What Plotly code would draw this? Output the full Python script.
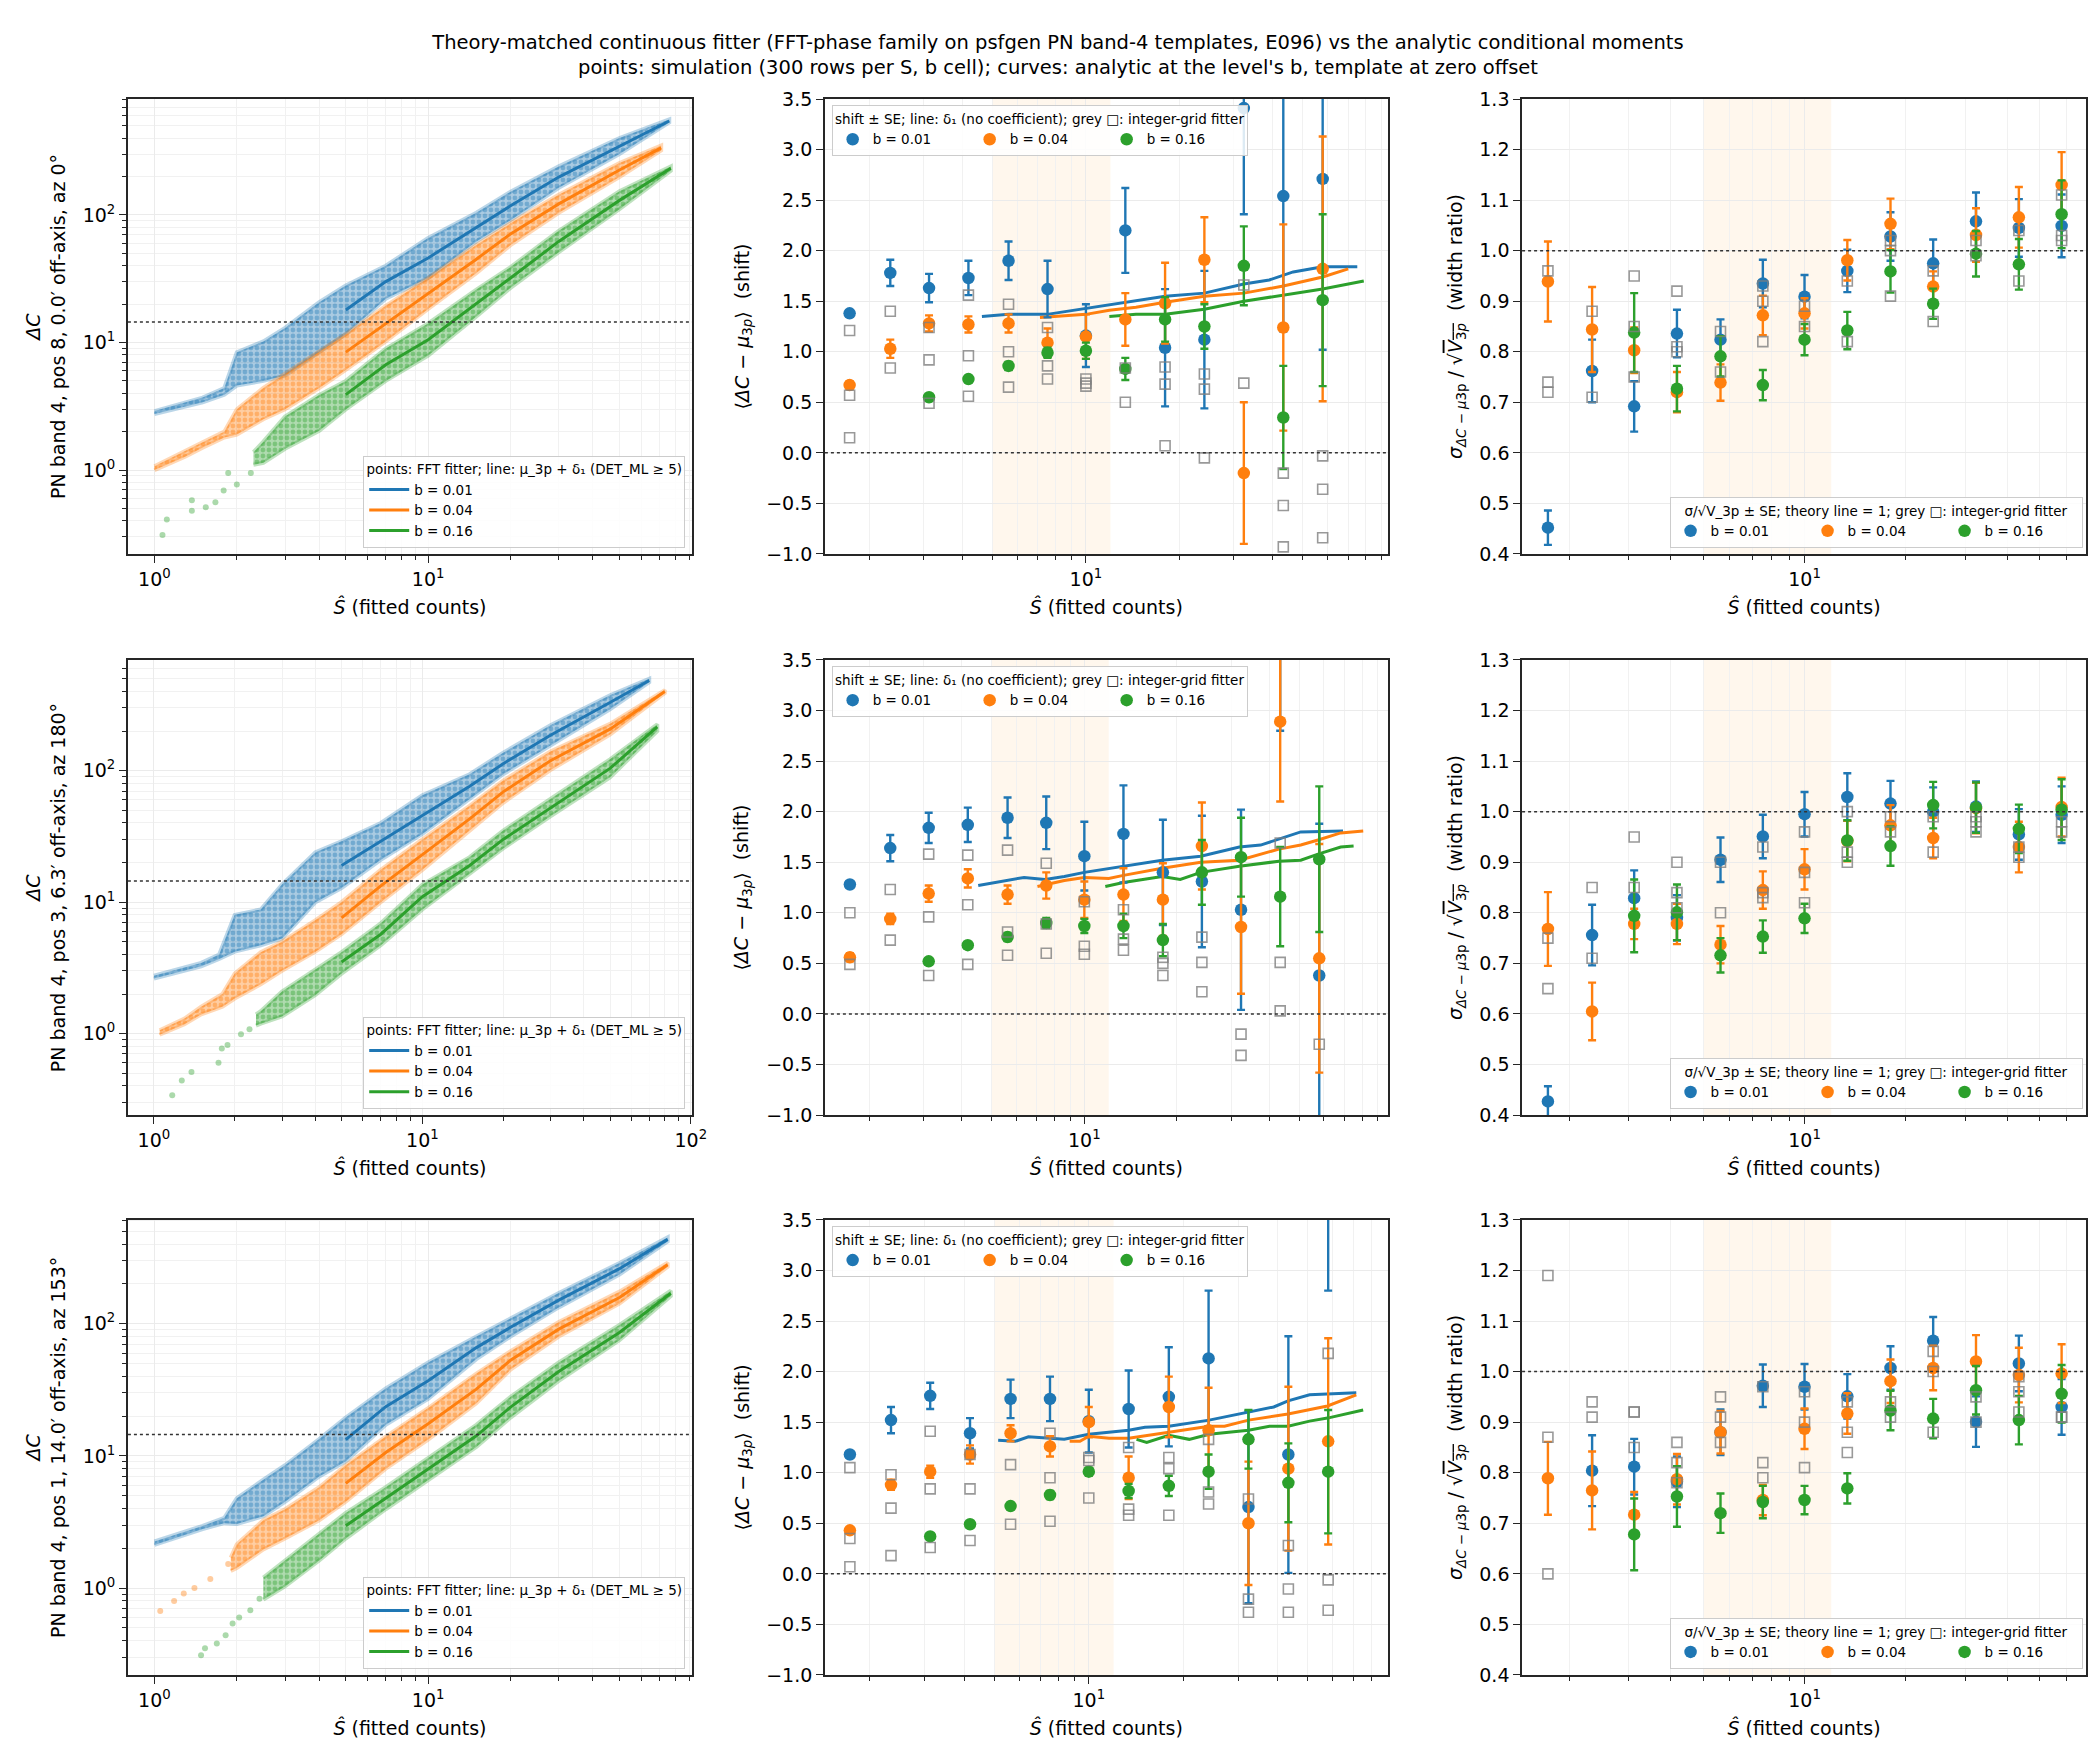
import math
import plotly.graph_objects as go

# colours (matplotlib tab10) and labels
COLORS = ["#1f77b4", "#ff7f0e", "#2ca02c"]
RGB = [(31, 119, 180), (255, 127, 14), (44, 160, 44)]
B_NAMES = ["b = 0.01", "b = 0.04", "b = 0.16"]

row_labels = [
    "PN band 4, pos 8, 0.0′ off-axis, az 0°",
    "PN band 4, pos 3, 6.3′ off-axis, az 180°",
    "PN band 4, pos 1, 14.0′ off-axis, az 153°",
]

# binned S-hat centres (middle and right columns)
s_bins = [1.73, 2.34, 3.12, 4.18, 5.63, 7.52, 10.0, 13.4, 18.0, 24.1, 32.3, 43.3, 58.0]

# ---------------- row 1 : pos 8 ----------------
r1_cloud_b01_s = [1.0, 1.5, 1.8, 2.0, 2.5, 3.0, 4.0, 5.0, 7.0, 10, 15, 20, 30, 50, 76]
r1_cloud_b01_lo = [2.75, 3.4, 3.9, 4.6, 5.0, 5.5, 8.4, 11.6, 22, 32, 62, 91, 163, 300, 530]
r1_cloud_b01_hi = [2.9, 3.7, 4.4, 8.4, 10.2, 13.0, 20.7, 28, 40, 66, 104, 152, 240, 400, 560]
r1_cloud_b04_s = [1.0, 1.3, 1.5, 1.8, 2.0, 2.5, 3.0, 4.0, 5.0, 7.0, 10, 15, 20, 30, 50, 71]
r1_cloud_b04_lo = [1.0, 1.28, 1.5, 1.8, 1.9, 2.5, 3.0, 4.4, 6.1, 10.2, 18.3, 35, 58, 104, 198, 320]
r1_cloud_b04_hi = [1.07, 1.4, 1.65, 2.0, 3.0, 4.4, 5.7, 8.4, 11.6, 19.4, 32, 58, 86, 144, 255, 350]
r1_cloud_b16_s = [2.3, 2.5, 3.0, 4.0, 5.0, 7.0, 10, 15, 20, 30, 50, 77]
r1_cloud_b16_lo = [1.10, 1.14, 1.47, 2.03, 2.99, 5.0, 7.9, 16, 26.8, 51, 111, 222]
r1_cloud_b16_hi = [1.38, 1.67, 2.63, 3.87, 5.0, 8.96, 14.1, 26, 39, 75, 153, 240]
r1_tail_b16_s = [1.07, 1.11, 1.37, 1.37, 1.54, 1.67, 1.79, 1.86, 2.0, 2.25]
r1_tail_b16_dc = [0.31, 0.41, 0.58, 0.48, 0.51, 0.56, 0.69, 0.95, 0.77, 0.95]
r1_line_b01_s = [5, 7, 10, 15, 20, 30, 50, 76]
r1_line_b01 = [18, 30, 46, 80, 118, 198, 345, 545]
r1_line_b04_s = [5, 7, 10, 15, 20, 30, 50, 71]
r1_line_b04 = [8.4, 14, 24, 45, 71, 122, 225, 335]
r1_line_b16_s = [5, 7, 10, 15, 20, 30, 50, 77]
r1_line_b16 = [3.9, 6.7, 10.5, 20, 32, 62, 130, 232]

r1_shift_b01 = [1.38, 1.78, 1.63, 1.73, 1.90, 1.62, 1.16, 2.20, 1.04, 1.12, 3.41, 2.54, 2.71]
r1_shift_b01_se = [0.03, 0.13, 0.14, 0.17, 0.19, 0.28, 0.31, 0.42, 0.58, 0.68, 1.05, 1.34, 1.69]
r1_shift_b04 = [0.67, 1.03, 1.28, 1.27, 1.28, 1.09, 1.15, 1.32, 1.48, 1.91, -0.20, 1.24, 1.82]
r1_shift_b04_se = [0.04, 0.09, 0.08, 0.08, 0.09, 0.14, 0.22, 0.26, 0.40, 0.42, 0.70, 1.02, 1.31]
r1_shift_b16 = [None, None, 0.55, 0.73, 0.86, 0.99, 1.01, 0.83, 1.32, 1.25, 1.85, 0.35, 1.51]
r1_shift_b16_se = [None, None, 0.03, 0.03, 0.04, 0.05, 0.08, 0.11, 0.22, 0.22, 0.39, 0.51, 0.85]
r1_shift_grey = [[1.21, 0.57, 0.15], [1.40, 0.84], [1.24, 0.92, 0.49], [1.56, 0.96, 0.56],
                 [1.47, 1.00, 0.65], [1.24, 0.86, 0.73], [0.73, 0.69, 0.66], [0.84, 0.50],
                 [0.85, 0.68, 0.07], [0.78, 0.63, -0.05], [1.66, 0.69], [-0.20, -0.52, -0.93],
                 [-0.03, -0.36, -0.84]]
r1_delta_b01_s = [4.62, 5.63, 7.5, 10, 11.9, 14.5, 18, 24.1, 32.3, 39, 46.6, 58, 75]
r1_delta_b01 = [1.35, 1.37, 1.37, 1.43, 1.46, 1.50, 1.55, 1.58, 1.67, 1.71, 1.79, 1.84, 1.84]
r1_delta_b04_s = [7.11, 10, 11.9, 14.5, 18, 24.1, 32.3, 43.3, 58, 70.1]
r1_delta_b04 = [1.34, 1.37, 1.41, 1.44, 1.49, 1.55, 1.58, 1.65, 1.74, 1.82]
r1_delta_b16_s = [11.9, 14.5, 18, 24.1, 32.3, 43.3, 58, 78.7]
r1_delta_b16 = [1.35, 1.37, 1.37, 1.42, 1.50, 1.56, 1.62, 1.70]

r1_width_b01 = [0.452, 0.762, 0.692, 0.836, 0.824, 0.935, 0.909, 0.960, 1.028, 0.975, 1.058, 1.045, 1.049]
r1_width_b01_se = [0.034, 0.062, 0.05, 0.047, 0.04, 0.047, 0.043, 0.042, 0.048, 0.047, 0.057, 0.057, 0.062]
r1_width_b04 = [0.939, 0.844, 0.803, 0.720, 0.739, 0.872, 0.876, 0.981, 1.053, 0.929, 1.031, 1.066, 1.130]
r1_width_b04_se = [0.079, 0.084, 0.045, 0.04, 0.036, 0.039, 0.03, 0.04, 0.05, 0.03, 0.053, 0.06, 0.065]
r1_width_b16 = [None, None, 0.838, 0.727, 0.791, 0.734, 0.824, 0.842, 0.959, 0.895, 0.994, 0.973, 1.072]
r1_width_b16_se = [None, None, 0.078, 0.045, 0.04, 0.03, 0.031, 0.037, 0.042, 0.03, 0.045, 0.05, 0.067]
r1_width_grey = [[0.96, 0.74, 0.72], [0.88, 0.71], [0.95, 0.85, 0.75], [0.92, 0.81, 0.80],
                 [0.84, 0.76], [0.93, 0.90, 0.82], [0.89, 0.85], [0.94, 0.82],
                 [1.02, 1.00, 0.91], [0.96, 0.86], [1.02, 0.99], [1.04, 0.94], [1.11, 1.03, 1.02]]

# ---------------- row 2 : pos 3 ----------------
r2_cloud_b01_s = [1.0, 1.5, 1.75, 2.0, 2.5, 3.0, 4.0, 5.0, 7.0, 10, 15, 20, 30, 50, 70]
r2_cloud_b01_lo = [2.62, 3.25, 3.7, 4.2, 4.7, 5.3, 10, 12.8, 21, 33, 61, 94, 157, 293, 470]
r2_cloud_b01_hi = [2.76, 3.45, 4.0, 8.0, 8.8, 13.6, 24, 29, 40, 65, 94, 137, 222, 375, 500]
r2_cloud_b04_s = [1.05, 1.3, 1.5, 1.8, 2.0, 2.5, 3.0, 4.0, 5.0, 7.0, 10, 15, 20, 30, 50, 80]
r2_cloud_b04_lo = [0.98, 1.18, 1.4, 1.6, 1.85, 2.37, 3.0, 4.2, 5.7, 10, 17.6, 35, 57, 101, 188, 390]
r2_cloud_b04_hi = [1.06, 1.3, 1.6, 2.0, 2.86, 4.16, 5.0, 7.3, 10, 17.6, 30, 54, 84, 140, 227, 410]
r2_cloud_b16_s = [2.4, 2.5, 3.0, 4.0, 5.0, 7.0, 10, 15, 20, 30, 50, 75]
r2_cloud_b16_lo = [1.15, 1.19, 1.35, 1.97, 2.86, 4.7, 8.8, 16.5, 25.6, 45, 89, 200]
r2_cloud_b16_hi = [1.4, 1.48, 2.09, 3.05, 4.16, 6.9, 13.6, 22, 35, 61, 122, 225]
r2_tail_b16_s = [1.17, 1.27, 1.38, 1.74, 1.79, 1.88, 2.11, 2.27]
r2_tail_b16_dc = [0.34, 0.44, 0.51, 0.60, 0.77, 0.82, 0.99, 1.08]
r2_line_b01_s = [5, 7, 10, 15, 20, 30, 50, 70]
r2_line_b01 = [19, 29, 46, 76, 113, 186, 330, 485]
r2_line_b04_s = [5, 7, 10, 15, 20, 30, 50, 80]
r2_line_b04 = [7.6, 13.3, 23, 43, 69, 119, 207, 400]
r2_line_b16_s = [5, 7, 10, 15, 20, 30, 50, 75]
r2_line_b16 = [3.5, 5.7, 11, 19, 30, 52, 104, 215]

r2_shift_b01 = [1.28, 1.64, 1.84, 1.87, 1.94, 1.89, 1.56, 1.78, 1.40, 1.31, 1.03, 4.0, 0.38]
r2_shift_b01_se = [0.03, 0.13, 0.15, 0.17, 0.20, 0.26, 0.34, 0.48, 0.52, 0.65, 0.99, 1.2, 1.5]
r2_shift_b04 = [0.56, 0.94, 1.19, 1.34, 1.18, 1.27, 1.13, 1.18, 1.13, 1.66, 0.86, 2.89, 0.55]
r2_shift_b04_se = [0.04, 0.05, 0.08, 0.09, 0.09, 0.13, 0.18, 0.26, 0.36, 0.43, 0.66, 0.79, 1.13]
r2_shift_b16 = [None, None, 0.52, 0.68, 0.76, 0.90, 0.87, 0.87, 0.73, 1.40, 1.55, 1.16, 1.53]
r2_shift_b16_se = [None, None, 0.03, 0.03, 0.04, 0.05, 0.07, 0.12, 0.16, 0.32, 0.39, 0.49, 0.72]
r2_shift_grey = [[1.00, 0.49], [1.23, 0.73], [1.58, 0.96, 0.38], [1.57, 1.08, 0.49],
                 [1.62, 0.81, 0.58], [1.49, 0.89, 0.60], [1.11, 0.67, 0.59], [1.03, 0.74, 0.63],
                 [0.56, 0.50, 0.38], [0.76, 0.51, 0.22], [-0.20, -0.41], [1.69, 0.51, 0.03], [-0.30]]
r2_delta_b01_s = [4.52, 5.58, 6.37, 7.45, 8.61, 10, 13.4, 17.9, 23.9, 31.9, 37.4, 42.9, 50.5, 69.3]
r2_delta_b01 = [1.27, 1.32, 1.35, 1.33, 1.36, 1.40, 1.46, 1.52, 1.56, 1.65, 1.67, 1.73, 1.80, 1.81]
r2_delta_b04_s = [7.04, 8.61, 10, 12.0, 13.4, 17.9, 23.9, 31.9, 42.9, 50.5, 57.5, 68.1, 80.6]
r2_delta_b04 = [1.26, 1.32, 1.35, 1.34, 1.37, 1.44, 1.50, 1.52, 1.63, 1.67, 1.72, 1.79, 1.81]
r2_delta_b16_s = [11.7, 13.4, 17.9, 20.5, 23.9, 31.9, 42.9, 50.5, 57.5, 68.1, 75]
r2_delta_b16 = [1.26, 1.30, 1.36, 1.33, 1.40, 1.46, 1.51, 1.52, 1.58, 1.65, 1.66]

r2_width_b01 = [0.427, 0.756, 0.829, 0.790, 0.905, 0.951, 0.995, 1.029, 1.016, 1.000, 1.010, 0.955, 0.994]
r2_width_b01_se = [0.03, 0.06, 0.055, 0.045, 0.044, 0.043, 0.044, 0.047, 0.045, 0.048, 0.05, 0.05, 0.056]
r2_width_b04 = [0.768, 0.605, 0.778, 0.778, 0.737, 0.845, 0.886, 0.942, 0.973, 0.948, 1.007, 0.930, 1.009]
r2_width_b04_se = [0.073, 0.057, 0.03, 0.04, 0.037, 0.037, 0.04, 0.04, 0.04, 0.04, 0.05, 0.05, 0.058]
r2_width_b16 = [None, None, 0.794, 0.801, 0.716, 0.753, 0.789, 0.943, 0.932, 1.013, 1.008, 0.966, 1.004]
r2_width_b16_se = [None, None, 0.072, 0.055, 0.034, 0.032, 0.029, 0.04, 0.039, 0.046, 0.05, 0.048, 0.06]
r2_width_grey = [[0.75, 0.65], [0.85, 0.71], [0.95, 0.85], [0.90, 0.84, 0.81], [0.90, 0.80],
                 [0.93, 0.84, 0.83], [0.96, 0.88, 0.82], [1.00, 0.92, 0.90], [0.99, 0.96],
                 [0.99, 0.92], [0.99, 0.96, 0.98], [0.93, 0.91], [0.98, 0.96]]

# ---------------- row 3 : pos 1 ----------------
r3_cloud_b01_s = [1.0, 1.5, 1.8, 2.0, 2.5, 3.0, 4.0, 5.0, 7.0, 10, 15, 20, 30, 50, 75]
r3_cloud_b01_lo = [2.12, 2.8, 3.1, 3.06, 3.5, 4.5, 7.0, 9.1, 17.2, 27, 54, 80, 133, 236, 420]
r3_cloud_b01_hi = [2.25, 2.95, 3.4, 4.79, 6.6, 8.5, 13.4, 19.5, 32.4, 51, 80, 110, 171, 288, 450]
r3_cloud_b04_s = [1.9, 2.0, 2.5, 3.0, 4.0, 5.0, 7.0, 10, 15, 20, 30, 50, 75]
r3_cloud_b04_lo = [1.35, 1.42, 1.96, 2.37, 3.26, 4.5, 8, 13.3, 25, 45, 80, 142, 270]
r3_cloud_b04_hi = [1.7, 2.15, 3.26, 3.95, 5.8, 8.5, 14, 23, 42, 62, 103, 175, 290]
r3_tail_b04_s = [1.05, 1.18, 1.28, 1.40, 1.6, 1.86]
r3_tail_b04_dc = [0.67, 0.8, 0.91, 1.0, 1.17, 1.52]
r3_cloud_b16_s = [2.5, 3.0, 4.0, 5.0, 7.0, 10, 15, 20, 30, 50, 77]
r3_cloud_b16_lo = [0.82, 1.03, 1.62, 2.37, 3.95, 6.6, 11.7, 19.5, 37, 75, 162]
r3_cloud_b16_hi = [1.2, 1.62, 2.61, 3.7, 5.8, 9.7, 17.2, 28, 51, 98, 178]
r3_tail_b16_s = [1.48, 1.53, 1.69, 1.82, 1.93, 2.04, 2.24, 2.42]
r3_tail_b16_dc = [0.31, 0.35, 0.38, 0.44, 0.54, 0.6, 0.68, 0.83]
r3_line_b01_s = [5, 7, 10, 15, 20, 30, 50, 75]
r3_line_b01 = [13.3, 23.6, 37, 66, 94, 151, 261, 435]
r3_line_b04_s = [5, 7, 10, 15, 20, 30, 50, 75]
r3_line_b04 = [6.2, 10.6, 17.5, 32, 53, 91, 158, 280]
r3_line_b16_s = [5, 7, 10, 15, 20, 30, 50, 77]
r3_line_b16 = [2.96, 4.8, 8.0, 14.2, 23.4, 43.5, 86, 170]

r3_shift_b01 = [1.18, 1.52, 1.76, 1.39, 1.73, 1.73, 1.51, 1.63, 1.75, 2.13, 0.66, 1.18, 4.1]
r3_shift_b01_se = [0.03, 0.13, 0.13, 0.15, 0.19, 0.22, 0.31, 0.38, 0.49, 0.67, 0.95, 1.17, 1.3]
r3_shift_b04 = [0.43, 0.88, 1.01, 1.18, 1.39, 1.26, 1.50, 0.95, 1.65, 1.42, 0.50, 1.04, 1.31]
r3_shift_b04_se = [0.03, 0.05, 0.06, 0.09, 0.08, 0.10, 0.15, 0.21, 0.30, 0.42, 0.61, 0.81, 1.02]
r3_shift_b16 = [None, None, 0.37, 0.49, 0.67, 0.78, 1.01, 0.82, 0.87, 1.01, 1.33, 0.90, 1.01]
r3_shift_b16_se = [None, None, 0.02, 0.03, 0.03, 0.04, 0.04, 0.07, 0.10, 0.17, 0.29, 0.39, 0.61]
r3_shift_grey = [[1.05, 0.35, 0.07], [0.98, 0.65, 0.18], [1.41, 0.84, 0.26], [1.18, 0.84, 0.33],
                 [1.08, 0.49], [1.39, 0.95, 0.52], [1.15, 1.12, 0.75], [1.25, 0.64, 0.58],
                 [1.15, 1.04, 0.58], [1.33, 0.81, 0.69], [0.74, -0.25, -0.38], [0.28, -0.15, -0.38],
                 [2.18, -0.06, -0.36]]
r3_delta_b01_s = [5.14, 5.82, 6.42, 7.47, 8.35, 10, 13.4, 15.1, 18.0, 24.2, 32.3, 38.9, 43.2, 50.6, 71.3]
r3_delta_b01 = [1.32, 1.31, 1.355, 1.34, 1.33, 1.38, 1.42, 1.45, 1.46, 1.52, 1.60, 1.65, 1.71, 1.77, 1.79]
r3_delta_b04_s = [8.69, 9.37, 10, 11.6, 13.4, 18.0, 24.2, 27.1, 32.3, 43.2, 57.7, 71.3]
r3_delta_b04 = [1.31, 1.31, 1.36, 1.34, 1.34, 1.40, 1.46, 1.46, 1.52, 1.58, 1.66, 1.77]
r3_delta_b16_s = [14.2, 15.3, 18.0, 20.9, 24.2, 32.3, 37.7, 43.2, 50.6, 57.7, 75]
r3_delta_b16 = [1.33, 1.30, 1.37, 1.33, 1.38, 1.42, 1.46, 1.46, 1.51, 1.54, 1.62]

r3_width_b01 = [None, 0.804, 0.812, 0.782, 0.880, 0.972, 0.970, 0.951, 1.007, 1.061, 0.901, 1.016, 0.930]
r3_width_b01_se = [None, 0.07, 0.055, 0.05, 0.045, 0.042, 0.045, 0.044, 0.043, 0.047, 0.05, 0.055, 0.055]
r3_width_b04 = [0.789, 0.765, 0.717, 0.787, 0.880, 0.746, 0.887, 0.917, 0.981, 1.007, 1.020, 0.993, 0.996]
r3_width_b04_se = [0.072, 0.077, 0.045, 0.05, 0.042, 0.03, 0.04, 0.04, 0.043, 0.044, 0.052, 0.054, 0.058]
r3_width_b16 = [None, None, 0.678, 0.753, 0.720, 0.742, 0.746, 0.769, 0.923, 0.907, 0.963, 0.904, 0.956]
r3_width_b16_se = [None, None, 0.071, 0.06, 0.039, 0.032, 0.028, 0.03, 0.039, 0.039, 0.048, 0.048, 0.057]
r3_width_grey = [[1.19, 0.87, 0.60], [0.94, 0.91], [0.92, 0.92, 0.85], [0.86, 0.82, 0.78],
                 [0.95, 0.91, 0.86], [0.97, 0.82, 0.79], [0.96, 0.90, 0.81], [0.94, 0.88, 0.84],
                 [0.94, 0.91], [1.04, 1.00, 0.88], [0.95, 0.90], [0.99, 0.96, 0.92], [0.91, 0.91]]

# reference levels / shaded S-range
dc_threshold = 14.5
band_s = [5.0, 12.0]

# axis ranges
left_xrange = [[0.80, 92], [0.80, 101], [0.80, 92]]
left_yrange = [[0.22, 810], [0.24, 695], [0.22, 611]]
mid_xrange = [[1.44, 94], [1.435, 96.8], [1.44, 89.8]]
right_xrange = [1.45, 68.5]

# ------------------------------------------------------------------
clouds = [
    [(r1_cloud_b01_s, r1_cloud_b01_lo, r1_cloud_b01_hi), (r1_cloud_b04_s, r1_cloud_b04_lo, r1_cloud_b04_hi),
     (r1_cloud_b16_s, r1_cloud_b16_lo, r1_cloud_b16_hi)],
    [(r2_cloud_b01_s, r2_cloud_b01_lo, r2_cloud_b01_hi), (r2_cloud_b04_s, r2_cloud_b04_lo, r2_cloud_b04_hi),
     (r2_cloud_b16_s, r2_cloud_b16_lo, r2_cloud_b16_hi)],
    [(r3_cloud_b01_s, r3_cloud_b01_lo, r3_cloud_b01_hi), (r3_cloud_b04_s, r3_cloud_b04_lo, r3_cloud_b04_hi),
     (r3_cloud_b16_s, r3_cloud_b16_lo, r3_cloud_b16_hi)],
]
tails = [
    [(r1_tail_b16_s, r1_tail_b16_dc, 2)],
    [(r2_tail_b16_s, r2_tail_b16_dc, 2)],
    [(r3_tail_b04_s, r3_tail_b04_dc, 1), (r3_tail_b16_s, r3_tail_b16_dc, 2)],
]
lines = [
    [(r1_line_b01_s, r1_line_b01), (r1_line_b04_s, r1_line_b04), (r1_line_b16_s, r1_line_b16)],
    [(r2_line_b01_s, r2_line_b01), (r2_line_b04_s, r2_line_b04), (r2_line_b16_s, r2_line_b16)],
    [(r3_line_b01_s, r3_line_b01), (r3_line_b04_s, r3_line_b04), (r3_line_b16_s, r3_line_b16)],
]
shifts = [
    [(r1_shift_b01, r1_shift_b01_se), (r1_shift_b04, r1_shift_b04_se), (r1_shift_b16, r1_shift_b16_se)],
    [(r2_shift_b01, r2_shift_b01_se), (r2_shift_b04, r2_shift_b04_se), (r2_shift_b16, r2_shift_b16_se)],
    [(r3_shift_b01, r3_shift_b01_se), (r3_shift_b04, r3_shift_b04_se), (r3_shift_b16, r3_shift_b16_se)],
]
deltas = [
    [(r1_delta_b01_s, r1_delta_b01), (r1_delta_b04_s, r1_delta_b04), (r1_delta_b16_s, r1_delta_b16)],
    [(r2_delta_b01_s, r2_delta_b01), (r2_delta_b04_s, r2_delta_b04), (r2_delta_b16_s, r2_delta_b16)],
    [(r3_delta_b01_s, r3_delta_b01), (r3_delta_b04_s, r3_delta_b04), (r3_delta_b16_s, r3_delta_b16)],
]
widths = [
    [(r1_width_b01, r1_width_b01_se), (r1_width_b04, r1_width_b04_se), (r1_width_b16, r1_width_b16_se)],
    [(r2_width_b01, r2_width_b01_se), (r2_width_b04, r2_width_b04_se), (r2_width_b16, r2_width_b16_se)],
    [(r3_width_b01, r3_width_b01_se), (r3_width_b04, r3_width_b04_se), (r3_width_b16, r3_width_b16_se)],
]
shift_greys = [r1_shift_grey, r2_shift_grey, r3_shift_grey]
width_greys = [r1_width_grey, r2_width_grey, r3_width_grey]

W, H = 2100, 1764
col_x = [(0.0571, 0.3257), (0.389, 0.657), (0.721, 0.9895)]
row_y = [(0.6905, 0.9484), (0.3724, 0.6304), (0.055, 0.313)]

FONT = "DejaVu Sans"
AXC = "#262626"
GRID = "#ebebeb"
minor_log = [2, 3, 4, 5, 6, 7, 8, 9, 20, 30, 40, 50, 60, 70, 80, 90]
minor_log_y = [0.2, 0.3, 0.4, 0.5, 0.6, 0.7, 0.8, 0.9] + minor_log + [200, 300, 400, 500, 600, 700, 800, 900]
dec_vals = [1, 10, 100]
dec_text = ["10<sup>0</sup>", "10<sup>1</sup>", "10<sup>2</sup>"]
x_title = "<i>Ŝ</i> (fitted counts)"


def rgba(i, a):
    r, g, b = RGB[i]
    return "rgba({},{},{},{})".format(r, g, b, a)


def base_axis(domain):
    return dict(
        domain=list(domain), showline=True, linecolor=AXC, linewidth=1.6, mirror=True,
        ticks="outside", ticklen=7, tickwidth=1.4, tickcolor=AXC,
        showgrid=True, gridcolor=GRID, gridwidth=1, zeroline=False,
        tickfont=dict(family=FONT, size=19, color="black"), automargin=False,
    )


def log_x(domain, rng, anchor):
    d = base_axis(domain)
    d.update(type="log", range=[math.log10(rng[0]), math.log10(rng[1])], tickmode="array",
             tickvals=dec_vals, ticktext=dec_text, anchor=anchor,
             minor=dict(tickmode="array", tickvals=minor_log, ticks="outside", ticklen=4,
                        tickcolor=AXC, showgrid=True, gridcolor="#f1f1f1"),
             title=dict(text=x_title, font=dict(family=FONT, size=19, color="black"), standoff=12))
    return d


fig = go.Figure()
layout = dict(shapes=[])

for r in range(3):
    for c in range(3):
        k = r * 3 + c + 1
        xa = "x" if k == 1 else "x{}".format(k)
        ya = "y" if k == 1 else "y{}".format(k)
        lg = "legend" if k == 1 else "legend{}".format(k)
        xkey = "xaxis" if k == 1 else "xaxis{}".format(k)
        ykey = "yaxis" if k == 1 else "yaxis{}".format(k)
        xd, yd = col_x[c], row_y[r]

        if c == 0:
            layout[xkey] = log_x(xd, left_xrange[r], ya)
            yax = base_axis(yd)
            yax.update(type="log", range=[math.log10(left_yrange[r][0]), math.log10(left_yrange[r][1])],
                       tickmode="array", tickvals=dec_vals, ticktext=dec_text, anchor=xa,
                       minor=dict(tickmode="array", tickvals=minor_log_y, ticks="outside", ticklen=4,
                                  tickcolor=AXC, showgrid=True, gridcolor="#f1f1f1"),
                       title=dict(text="<i>ΔC</i><br>" + row_labels[r],
                                  font=dict(family=FONT, size=19, color="black"), standoff=12))
            layout[ykey] = yax

            # analytic lines first, the simulated point clouds sit over them
            for b in range(3):
                ls, lv = lines[r][b]
                fig.add_trace(go.Scatter(
                    x=ls, y=lv, mode="lines", line=dict(color=COLORS[b], width=3),
                    name=B_NAMES[b], legend=lg, xaxis=xa, yaxis=ya))
            for b in range(3):
                s, lo, hi = clouds[r][b]
                fig.add_trace(go.Scatter(
                    x=s + s[::-1], y=hi + lo[::-1], mode="lines", fill="toself",
                    fillcolor=rgba(b, 0.4),
                    fillpattern=dict(shape=".", size=6, solidity=0.5,
                                     fgcolor=rgba(b, 0.8), bgcolor=rgba(b, 0.38)),
                    line=dict(color=rgba(b, 0.3), width=4),
                    hoverinfo="skip", showlegend=False, xaxis=xa, yaxis=ya))
            for ts, tv, b in tails[r]:
                fig.add_trace(go.Scatter(
                    x=ts, y=tv, mode="markers", marker=dict(size=6, color=rgba(b, 0.4)),
                    hoverinfo="skip", showlegend=False, xaxis=xa, yaxis=ya))
            layout["shapes"].append(dict(
                type="line", xref=xa + " domain", yref=ya, x0=0, x1=1, y0=dc_threshold, y1=dc_threshold,
                line=dict(color="#333333", width=1.5, dash="dot")))
            layout[lg] = dict(
                title=dict(text="points: FFT fitter; line: μ_3p + δ₁ (DET_ML ≥ 5)", side="top center",
                           font=dict(family=FONT, size=13.5, color="black")),
                font=dict(family=FONT, size=13.5, color="black"),
                x=xd[0] + 0.988 * (xd[1] - xd[0]), xanchor="right",
                y=yd[0] + 0.014 * (yd[1] - yd[0]), yanchor="bottom",
                bgcolor="rgba(255,255,255,0.85)", bordercolor="#cccccc", borderwidth=1,
                itemwidth=40, tracegroupgap=2)
        else:
            if c == 1:
                layout[xkey] = log_x(xd, mid_xrange[r], ya)
                yrng, dt, ref = [-1.0, 3.5], 0.5, 0.0
                ytitle = "⟨<i>ΔC</i> − <i>μ</i><sub>3<i>p</i></sub>⟩  (shift)"
                vals, greys, curves = shifts[r], shift_greys[r], deltas[r]
                leg_title = "shift ± SE; line: δ₁ (no coefficient); grey □: integer-grid fitter"
                lx, lxa, ly, lya = xd[0] + 0.012 * (xd[1] - xd[0]), "left", yd[0] + 0.986 * (yd[1] - yd[0]), "top"
            else:
                layout[xkey] = log_x(xd, right_xrange, ya)
                yrng, dt, ref = [0.4, 1.3], 0.1, 1.0
                ytitle = ("<i>σ</i><sub><i>ΔC</i> − <i>μ</i>3p</sub> / √<span style='text-decoration:overline'>"
                          "<i>V</i><sub>3<i>p</i></sub></span>  (width ratio)")
                vals, greys, curves = widths[r], width_greys[r], None
                leg_title = "σ/√V_3p ± SE; theory line = 1; grey □: integer-grid fitter"
                lx, lxa, ly, lya = xd[0] + 0.994 * (xd[1] - xd[0]), "right", yd[0] + 0.013 * (yd[1] - yd[0]), "bottom"

            yax = base_axis(yd)
            yax.update(range=yrng, dtick=dt, tick0=0, tickformat=".1f", anchor=xa,
                       title=dict(text=ytitle, font=dict(family=FONT, size=19, color="black"), standoff=12))
            layout[ykey] = yax

            layout["shapes"].append(dict(
                type="rect", xref=xa, yref=ya + " domain", x0=band_s[0], x1=band_s[1], y0=0, y1=1,
                fillcolor="rgba(255,170,60,0.09)", line=dict(width=0), layer="below"))
            layout["shapes"].append(dict(
                type="line", xref=xa + " domain", yref=ya, x0=0, x1=1, y0=ref, y1=ref,
                line=dict(color="#333333", width=1.5, dash="dot")))

            if curves is not None:
                for b in range(3):
                    cs, cv = curves[b]
                    fig.add_trace(go.Scatter(
                        x=cs, y=cv, mode="lines", line=dict(color=COLORS[b], width=3),
                        hoverinfo="skip", showlegend=False, xaxis=xa, yaxis=ya))
            for b in range(3):
                v, se = vals[b]
                fig.add_trace(go.Scatter(
                    x=s_bins, y=v, mode="markers", name=B_NAMES[b], legend=lg,
                    marker=dict(size=12.5, color=COLORS[b]),
                    error_y=dict(type="data", array=se, color=COLORS[b], thickness=2.4, width=4),
                    xaxis=xa, yaxis=ya))
            gx, gy = [], []
            for s, grp in zip(s_bins, greys):
                for g in grp:
                    gx.append(s)
                    gy.append(g)
            fig.add_trace(go.Scatter(
                x=gx, y=gy, mode="markers", showlegend=False, hoverinfo="skip",
                marker=dict(symbol="square-open", size=10, color="rgba(128,128,128,0.8)",
                            line=dict(width=1.6)),
                xaxis=xa, yaxis=ya))

            layout[lg] = dict(
                title=dict(text=leg_title, side="top center", font=dict(family=FONT, size=13.5, color="black")),
                font=dict(family=FONT, size=13.5, color="black"), orientation="h",
                x=lx, xanchor=lxa, y=ly, yanchor=lya, entrywidth=92,
                bgcolor="rgba(255,255,255,0.85)", bordercolor="#cccccc", borderwidth=1, itemwidth=30)

fig.update_layout(**layout)
fig.update_layout(
    width=W, height=H, margin=dict(l=0, r=0, t=0, b=0),
    paper_bgcolor="white", plot_bgcolor="white",
    font=dict(family=FONT, size=19, color="black"),
    title=dict(
        text=("Theory-matched continuous fitter (FFT-phase family on psfgen PN band-4 templates, E096) "
              "vs the analytic conditional moments<br>points: simulation (300 rows per S, b cell); "
              "curves: analytic at the level's b, template at zero offset"),
        x=0.5, xanchor="center", y=1 - 41 / H, yref="container", yanchor="middle",
        font=dict(family=FONT, size=19.5, color="black")),
)

fig.write_html("out.html")
